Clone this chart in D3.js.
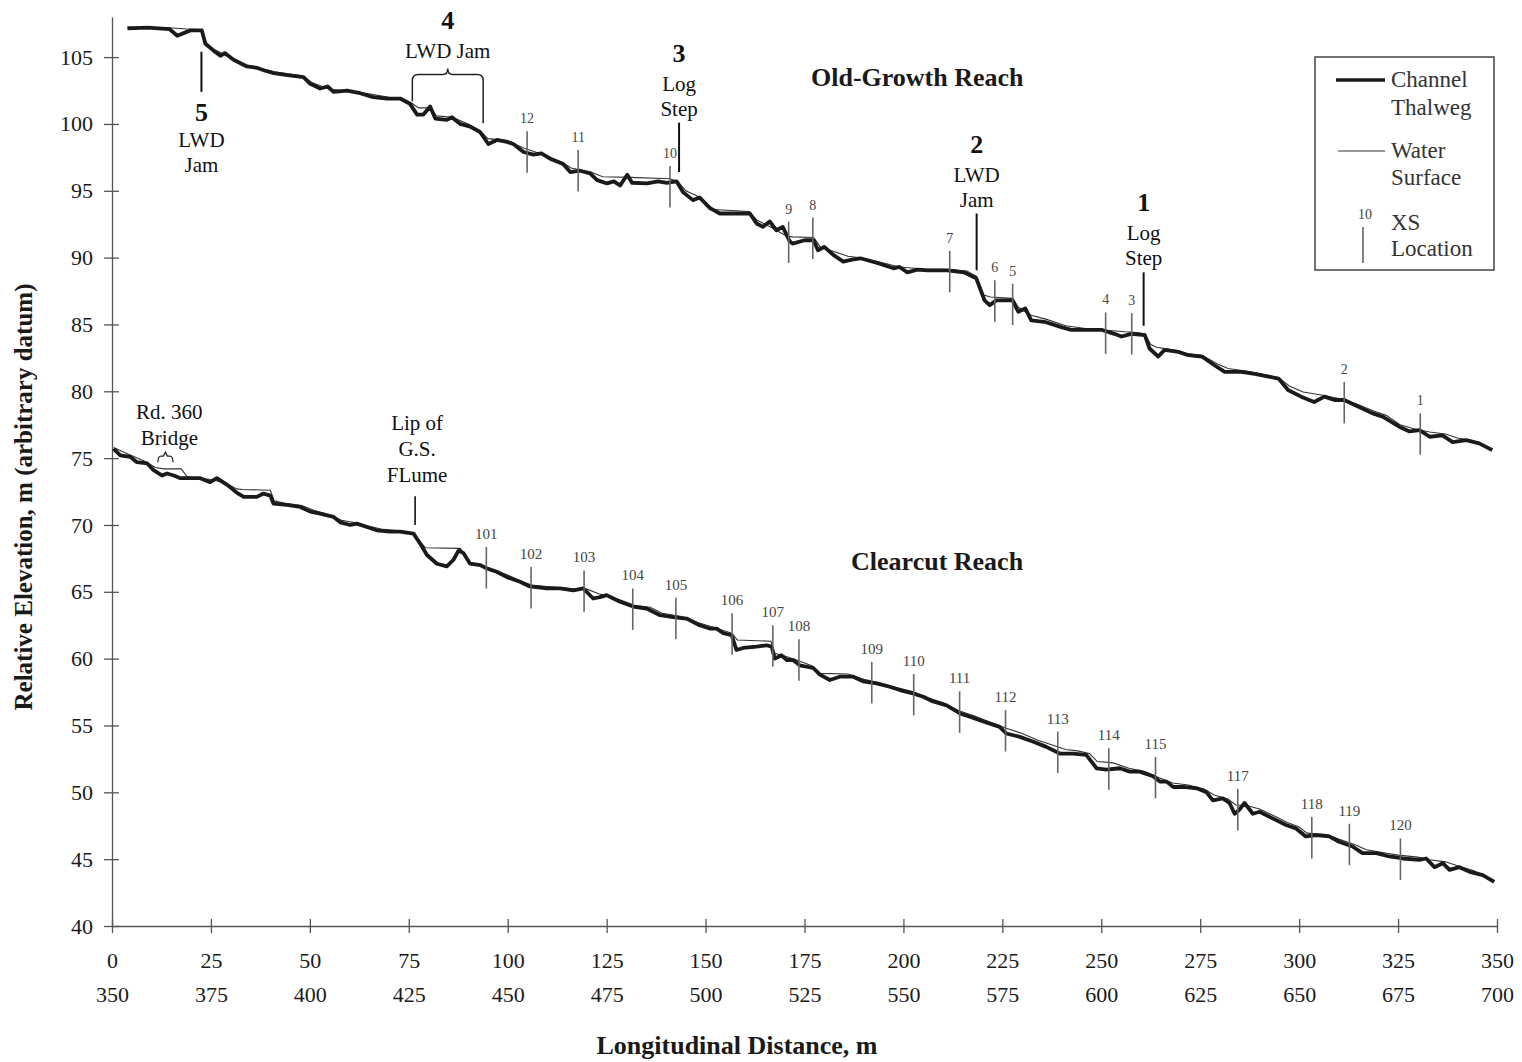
<!DOCTYPE html>
<html>
<head>
<meta charset="utf-8">
<script src="https://cdn.jsdelivr.net/npm/d3@7"></script>
<style>
  body { margin: 0; background: #fff; }
  svg { display: block; font-family: "Liberation Serif", "Times New Roman", serif; }
</style>
</head>
<body>
<div id="graph"></div>
<script>
// Longitudinal profiles, distance (m) vs relative elevation (m)
const yTicks = [40, 45, 50, 55, 60, 65, 70, 75, 80, 85, 90, 95, 100, 105];
const xTicks = [0, 25, 50, 75, 100, 125, 150, 175, 200, 225, 250, 275, 300, 325, 350];
const xTicks2 = [350, 375, 400, 425, 450, 475, 500, 525, 550, 575, 600, 625, 650, 675, 700];

// Old-growth reach
const ogThalweg = [
  [3.9,107.15],[9,107.2],[14.5,107.1],[16.5,106.6],[19.8,107.0],[22.7,107.0],[23.6,106.0],[25.6,105.5],
  [27.4,105.1],[28.5,105.3],[30.7,104.8],[34.1,104.3],[36.6,104.2],[38.5,104.0],[40.9,103.8],[44.3,103.65],
  [48.4,103.5],[50.1,103.0],[52.6,102.65],[54.5,102.8],[56,102.4],[59.4,102.5],[62.7,102.3],[66,102.0],
  [69.5,101.9],[72.8,101.9],[75.3,101.5],[77.1,100.7],[78.7,100.7],[80.4,101.3],[81.7,100.4],[84.6,100.3],
  [85.9,100.5],[88,100.0],[90.5,99.8],[93,99.4],[95.1,98.5],[97.3,98.8],[99.8,98.65],[101.4,98.5],
  [104,97.9],[106.5,97.7],[108.5,97.8],[110.7,97.4],[114,97.0],[115.8,96.4],[118.3,96.5],[120.8,96.3],
  [122.6,95.8],[125.1,95.55],[126.8,95.7],[128.4,95.4],[130.2,96.2],[131.4,95.6],[135.2,95.55],[138,95.7],
  [140.2,95.6],[142.7,95.7],[144.3,94.9],[146.8,94.3],[148.5,94.5],[151.1,93.7],[153.6,93.3],[156.9,93.3],
  [161.2,93.3],[162.9,92.55],[164.5,92.3],[166.2,92.7],[167.9,92.05],[169.5,92.3],[171.3,91.2],[172,91.05],
  [175,91.3],[177.3,91.3],[178.4,90.55],[180,90.8],[182.3,90.2],[184.8,89.7],[187,89.85],[189.1,89.95],
  [193.4,89.6],[197.5,89.2],[199,89.3],[201,88.9],[203.5,89.1],[206.1,89.05],[211.1,89.05],[215.3,88.9],
  [218.4,88.45],[220.5,86.8],[221.8,86.45],[223.5,86.8],[227.6,86.8],[229,85.95],[230.8,86.2],[232.3,85.3],
  [235.6,85.2],[239.9,84.8],[242.4,84.6],[245.7,84.6],[250,84.6],[253.3,84.3],[255.1,84.1],[257.6,84.3],
  [261,84.2],[262.2,83.2],[264.4,82.6],[266,83.1],[269.5,82.95],[272,82.7],[275.4,82.6],[278.6,81.95],
  [281.2,81.45],[285.4,81.45],[288.8,81.3],[292.3,81.1],[294.8,80.95],[297.2,80.1],[300.5,79.6],[303.8,79.2],
  [306.4,79.6],[308.9,79.35],[311.4,79.35],[315,78.85],[318.6,78.35],[321.1,78.1],[325.3,77.35],[327.9,77.0],
  [330.4,77.1],[333,76.6],[336.2,76.7],[338.8,76.2],[342.2,76.35],[345.5,76.1],[348.8,75.6]
];
const ogWater = [
  [3.9,107.25],[14.5,107.2],[19,107.1],[22.7,107.05],[23.6,106.1],[25.6,105.6],[30,104.95],[34,104.4],
  [41,103.9],[48,103.6],[50.5,103.1],[55,102.6],[62,102.4],[70,102.0],[73,101.95],[75.5,101.6],
  [77.5,101.2],[80.4,101.2],[82,100.6],[86,100.5],[90,100.0],[93,99.5],[95,98.9],[100,98.75],
  [104,98.2],[110,97.6],[114,97.1],[116,96.7],[121,96.4],[124,96.05],[131,96.0],[141,95.9],
  [143,95.7],[145,95.0],[148,94.6],[150,94.1],[152,93.6],[161,93.45],[163,92.8],[167,92.2],
  [170.5,91.6],[172,91.55],[177.3,91.5],[179,90.8],[183,90.4],[186,90.1],[190,89.95],[195,89.6],
  [199,89.3],[205,89.15],[212,89.1],[216,89.0],[218.5,88.6],[220.3,87.2],[222,87.05],[227.6,86.95],
  [229,86.3],[232,85.7],[236,85.4],[241,84.9],[246,84.7],[252,84.55],[256,84.45],[259,84.4],
  [261,84.3],[262.5,83.5],[264,83.3],[268,83.1],[272,82.8],[275.5,82.7],[279,82.1],[282,81.7],
  [287,81.5],[292,81.2],[295,81.0],[297.5,80.4],[301,79.95],[306,79.7],[311,79.4],[315,79.0],
  [319,78.5],[322,78.2],[325.5,77.5],[329,77.2],[333,76.95],[337,76.8],[340,76.5],[344,76.3],[348.8,75.7]
];
const ogXsLabel = ["12","11","10","9","8","7","6","5","4","3","2","1"];
const ogXsDist = [104.9, 117.8, 141.0, 171.0, 177.1, 211.7, 223.1, 227.6, 251.1, 257.7, 311.4, 330.6];
const ogXsElev = [97.9, 96.5, 95.3, 91.15, 91.45, 88.95, 86.75, 86.5, 84.35, 84.3, 79.15, 76.8];

// Clearcut reach
const ccThalweg = [
  [0.4,75.7],[2.1,75.2],[4.6,75.1],[6.3,74.7],[8.9,74.6],[10.5,74.1],[12.7,73.7],[13.9,73.85],
  [15.6,73.7],[17.3,73.5],[19.8,73.5],[22.3,73.5],[24.8,73.2],[26.5,73.5],[29.1,73.0],[31.6,72.4],
  [33.3,72.1],[36.6,72.1],[38.3,72.35],[40,72.2],[40.8,71.6],[44.2,71.5],[47.6,71.35],[50.1,71.0],
  [52.6,70.85],[56,70.6],[57.7,70.2],[60.2,70.0],[61.9,70.1],[64.4,69.85],[66.9,69.6],[70.3,69.5],
  [72.8,69.5],[76.2,69.35],[77.9,68.6],[79.6,67.75],[82.1,67.1],[84.6,66.9],[86.3,67.4],[87.6,68.1],
  [88.8,67.9],[90.5,67.1],[93,67.0],[94.7,66.75],[97.2,66.5],[99.8,66.1],[103.1,65.75],[105.6,65.4],
  [109.9,65.25],[113.2,65.25],[116.6,65.1],[119.1,65.25],[121.6,64.5],[123.3,64.6],[125,64.75],[126.7,64.5],
  [128.4,64.25],[131.7,63.9],[135.1,63.75],[138.5,63.25],[141.8,63.1],[145.2,63.0],[148.5,62.5],[151,62.25],
  [152.8,62.25],[154.5,61.9],[156.6,61.75],[157.8,60.65],[159.5,60.8],[162.9,60.9],[165.4,61.0],[166.7,60.9],
  [167.5,60.0],[169.2,60.25],[170.5,59.9],[172.1,59.9],[173.8,59.5],[177.2,59.3],[178.9,58.8],[181.4,58.4],
  [183.9,58.65],[187.3,58.65],[189.8,58.3],[193.2,58.15],[196.5,57.9],[199.1,57.65],[202.4,57.4],[205,57.15],
  [207.5,56.8],[210.9,56.5],[214.3,55.9],[216.8,55.65],[220.2,55.3],[224.3,54.9],[226,54.4],[229.4,54.15],
  [232.7,53.8],[236.1,53.4],[239.5,52.9],[242.9,52.9],[246.2,52.8],[248.8,51.8],[251.3,51.7],[254.7,51.8],
  [257.2,51.55],[259.7,51.55],[263.1,51.2],[264.8,50.8],[266.5,50.8],[268.2,50.4],[270.7,50.4],[274.1,50.3],
  [276.6,50.0],[278.2,49.4],[280.7,49.55],[282.4,49.2],[283.7,48.4],[284.9,48.7],[286.2,49.2],[288.3,48.4],
  [290,48.55],[293.3,48.05],[296.7,47.55],[299.2,47.3],[301.7,46.7],[304.3,46.8],[307.6,46.7],[310.1,46.3],
  [313.5,45.95],[316,45.45],[319.5,45.45],[322.8,45.2],[326.2,45.05],[330.4,44.95],[332.1,45.05],[334.2,44.4],
  [336.3,44.7],[338,44.2],[340.5,44.4],[343.1,44.05],[346.4,43.8],[349.3,43.3]
];
const ccWater = [
  [0.4,75.8],[4,75.3],[8,74.8],[11,74.3],[13,74.2],[17.5,74.2],[19,73.6],[25,73.4],
  [29,73.1],[31.5,72.7],[33,72.65],[40,72.6],[41,71.8],[44,71.6],[48,71.45],[51,71.1],
  [55,70.75],[58,70.35],[62,70.15],[65,69.9],[68,69.7],[73,69.55],[76.2,69.4],[78,68.7],
  [79.2,68.3],[88,68.25],[90.5,67.2],[94,66.9],[97,66.6],[100,66.25],[103,65.85],[106,65.5],
  [110,65.4],[116,65.25],[120,65.2],[123,64.85],[128,64.45],[132,64.0],[136,63.85],[139,63.4],
  [144,63.15],[148,62.7],[152,62.35],[155,62.05],[156.6,61.9],[158,61.4],[166.5,61.3],[167.5,60.4],
  [170,60.2],[173,59.9],[177,59.45],[179,58.9],[186,58.85],[190,58.45],[194,58.2],[198,57.85],
  [202,57.55],[206,57.1],[210,56.7],[214,56.1],[218,55.7],[222,55.25],[226,54.8],[230,54.4],
  [234,53.9],[238,53.5],[241,53.2],[244,53.1],[247,52.9],[249,52.3],[253,52.2],[257,51.8],
  [261,51.55],[264.5,51.1],[268,50.7],[272,50.55],[276,50.25],[278.5,49.8],[282,49.5],[284,49.05],
  [287,49.0],[290,48.75],[294,48.2],[297,47.75],[300,47.4],[302,46.95],[307,46.85],[310,46.5],
  [314,46.1],[317,45.7],[321,45.5],[325,45.3],[330,45.15],[333,44.95],[337,44.8],[340,44.5],
  [344,44.15],[349.3,43.4]
];
const ccXsLabel = ["101","102","103","104","105","106","107","108","109","110","111","112","113","114","115","117","118","119","120"];
const ccXsDist = [94.6, 105.9, 119.3, 131.6, 142.5, 156.7, 167.0, 173.6, 192.0, 202.6, 214.2, 225.8, 239.0, 251.9, 263.7, 284.5, 303.2, 312.7, 325.6];
const ccXsElev = [66.8, 65.3, 65.05, 63.7, 63.0, 61.85, 60.95, 59.9, 58.2, 57.3, 56.0, 54.6, 53.0, 51.75, 51.1, 48.7, 46.6, 46.1, 45.0];

// Numbered features: distance, line top / bottom elevation, text lines
const featNum = ["5", "3", "2", "1"];
const featDist = [22.6, 143.3, 218.5, 260.7];
const featTop = [105.4, 100.1, 93.3, 88.9];
const featBottom = [102.4, 96.4, 89.05, 84.9];
const featText = [["LWD", "Jam"], ["Log", "Step"], ["LWD", "Jam"], ["Log", "Step"]];

const width = 1522;
const height = 1062;
const ink = "#1a1a1a";

const x = d3.scaleLinear().domain([0, 350]).range([112, 1497]);
const y = d3.scaleLinear().domain([40, 108]).range([926, 17]);

const svg = d3.select("#graph").append("svg")
    .attr("width", width)
    .attr("height", height);

// Axes
const yAxis = svg.append("g")
    .attr("transform", `translate(${x(0)},0)`)
    .call(d3.axisLeft(y).tickValues(yTicks).tickSizeInner(8).tickSizeOuter(0).tickPadding(11));
yAxis.selectAll(".tick line").attr("x1", 7).attr("x2", -8);
yAxis.selectAll(".tick text").attr("font-size", 22).attr("fill", ink).attr("font-family", "Liberation Serif");
yAxis.selectAll("line, path").attr("stroke", "#555").attr("stroke-width", 1.3);

const xAxis = svg.append("g")
    .attr("transform", `translate(0,${y(40)})`)
    .call(d3.axisBottom(x).tickValues(xTicks).tickSizeInner(7).tickSizeOuter(0).tickPadding(19));
xAxis.selectAll(".tick line").attr("y1", -7).attr("y2", 7);
xAxis.selectAll(".tick text").attr("font-size", 22).attr("fill", ink).attr("font-family", "Liberation Serif");
xAxis.selectAll("line, path").attr("stroke", "#555").attr("stroke-width", 1.3);

const xAxis2 = svg.append("g")
    .attr("transform", `translate(0,${y(40)})`)
    .call(d3.axisBottom(x).tickValues(xTicks).tickFormat((d, i) => xTicks2[i]).tickSize(0).tickPadding(60));
xAxis2.select(".domain").remove();
xAxis2.selectAll(".tick text").attr("font-size", 22).attr("fill", ink).attr("font-family", "Liberation Serif");

// Axis titles
svg.append("text")
    .attr("transform", `translate(32,497) rotate(-90)`)
    .attr("text-anchor", "middle")
    .attr("font-size", 25)
    .attr("font-weight", "bold")
    .attr("fill", ink)
    .text("Relative Elevation, m (arbitrary datum)");

svg.append("text")
    .attr("x", 737)
    .attr("y", 1054)
    .attr("text-anchor", "middle")
    .attr("font-size", 26)
    .attr("font-weight", "bold")
    .attr("fill", ink)
    .text("Longitudinal Distance, m");

// Reach titles
svg.append("text").attr("x", x(203.5)).attr("y", y(102.85))
    .attr("text-anchor", "middle").attr("font-size", 26).attr("font-weight", "bold").attr("fill", ink)
    .text("Old-Growth Reach");
svg.append("text").attr("x", x(208.5)).attr("y", y(66.6))
    .attr("text-anchor", "middle").attr("font-size", 26).attr("font-weight", "bold").attr("fill", ink)
    .text("Clearcut Reach");

// XS location markers
function drawXs(labels, dists, elevs, fs) {
  const g = svg.append("g");
  labels.forEach((lab, i) => {
    g.append("line")
        .attr("x1", x(dists[i])).attr("x2", x(dists[i]))
        .attr("y1", y(elevs[i] + 1.55)).attr("y2", y(elevs[i] - 1.55))
        .attr("stroke", "#666").attr("stroke-width", 1.6);
    g.append("text")
        .attr("x", x(dists[i])).attr("y", y(elevs[i] + 1.55) - 8)
        .attr("text-anchor", "middle").attr("font-size", fs).attr("fill", "#444")
        .text(lab);
  });
}

// Profile lines
const line = d3.line().x(d => x(d[0])).y(d => y(d[1]));

[ogWater, ccWater].forEach(s => {
  svg.append("path").attr("d", line(s)).attr("fill", "none")
      .attr("stroke", "#333").attr("stroke-width", 1.1);
});
[ogThalweg, ccThalweg].forEach(s => {
  svg.append("path").attr("d", line(s)).attr("fill", "none")
      .attr("stroke", ink).attr("stroke-width", 3.8).attr("stroke-linejoin", "round");
});

drawXs(ogXsLabel, ogXsDist, ogXsElev, 14);
drawXs(ccXsLabel, ccXsDist, ccXsElev, 15);

// Numbered feature annotations
featNum.forEach((num, i) => {
  const px = x(featDist[i]);
  const top = y(featTop[i]);
  const bot = y(featBottom[i]);
  svg.append("line").attr("x1", px).attr("x2", px).attr("y1", top).attr("y2", bot)
      .attr("stroke", "#111").attr("stroke-width", 2);
  const lines = featText[i];
  if (num === "5") {
    svg.append("text").attr("x", px).attr("y", bot + 29).attr("text-anchor", "middle")
        .attr("font-size", 26).attr("font-weight", "bold").attr("fill", "#111").text(num);
    lines.forEach((t, j) => {
      svg.append("text").attr("x", px).attr("y", bot + 55 + j * 25).attr("text-anchor", "middle")
          .attr("font-size", 21).attr("fill", "#111").text(t);
    });
  } else {
    lines.slice().reverse().forEach((t, j) => {
      svg.append("text").attr("x", px).attr("y", top - 7 - j * 25).attr("text-anchor", "middle")
          .attr("font-size", 21).attr("fill", "#111").text(t);
    });
    svg.append("text").attr("x", px).attr("y", top - 7 - lines.length * 25 - 4).attr("text-anchor", "middle")
        .attr("font-size", 26).attr("font-weight", "bold").attr("fill", "#111").text(num);
  }
});

// Feature 4: LWD jam bracket
const b0 = x(75.9), b1 = x(93.8), bm = (b0 + b1) / 2, bt = y(103.7);
svg.append("path")
    .attr("d", `M${b0},${y(101.7)} L${b0},${bt + 6} Q${b0},${bt} ${b0 + 6},${bt} L${bm - 5},${bt} Q${bm},${bt} ${bm},${bt - 6} Q${bm},${bt} ${bm + 5},${bt} L${b1 - 6},${bt} Q${b1},${bt} ${b1},${bt + 6} L${b1},${y(100.05)}`)
    .attr("fill", "none").attr("stroke", "#222").attr("stroke-width", 1.5);
svg.append("text").attr("x", bm).attr("y", bt - 16).attr("text-anchor", "middle")
    .attr("font-size", 21).attr("fill", "#111").text("LWD Jam");
svg.append("text").attr("x", bm).attr("y", bt - 45).attr("text-anchor", "middle")
    .attr("font-size", 26).attr("font-weight", "bold").attr("fill", "#111").text("4");

// Rd. 360 bridge
const r0 = x(11.6), r1 = x(15.4), rm = (r0 + r1) / 2, rt = y(75.15);
svg.append("path")
    .attr("d", `M${r0},${rt + 6} Q${r0},${rt} ${r0 + 3},${rt} L${rm - 2},${rt} L${rm},${rt - 4} L${rm + 2},${rt} L${r1 - 3},${rt} Q${r1},${rt} ${r1},${rt + 6}`)
    .attr("fill", "none").attr("stroke", "#222").attr("stroke-width", 1.2);
svg.append("text").attr("x", x(14.5)).attr("y", rt - 11).attr("text-anchor", "middle")
    .attr("font-size", 21).attr("fill", "#111").text("Bridge");
svg.append("text").attr("x", x(14.5)).attr("y", rt - 37).attr("text-anchor", "middle")
    .attr("font-size", 21).attr("fill", "#111").text("Rd. 360");

// Lip of gauging-station flume
const lx = x(76.6);
svg.append("line").attr("x1", lx).attr("x2", lx).attr("y1", y(72.15)).attr("y2", y(70.0))
    .attr("stroke", "#111").attr("stroke-width", 1.6);
["FLume", "G.S.", "Lip of"].forEach((t, j) => {
  svg.append("text").attr("x", lx + 2).attr("y", y(72.15) - 14 - j * 26).attr("text-anchor", "middle")
      .attr("font-size", 21).attr("fill", "#111").text(t);
});

// Legend
const lg = svg.append("g").attr("transform", "translate(1315,57)");
lg.append("rect").attr("width", 179).attr("height", 213)
    .attr("fill", "#fff").attr("stroke", "#444").attr("stroke-width", 1.5);
lg.append("line").attr("x1", 21).attr("x2", 70).attr("y1", 23).attr("y2", 23)
    .attr("stroke", ink).attr("stroke-width", 3.4);
lg.append("line").attr("x1", 23).attr("x2", 70).attr("y1", 94).attr("y2", 94)
    .attr("stroke", "#333").attr("stroke-width", 1.1);
lg.append("line").attr("x1", 48).attr("x2", 48).attr("y1", 170).attr("y2", 206)
    .attr("stroke", "#666").attr("stroke-width", 1.6);
lg.append("text").attr("x", 50).attr("y", 162).attr("text-anchor", "middle")
    .attr("font-size", 14).attr("fill", "#444").text("10");
[["Channel", 30], ["Thalweg", 58], ["Water", 101], ["Surface", 128], ["XS", 173], ["Location", 199]].forEach(([t, ty]) => {
  lg.append("text").attr("x", 76).attr("y", ty).attr("font-size", 23).attr("fill", "#333").text(t);
});
</script>
</body>
</html>
